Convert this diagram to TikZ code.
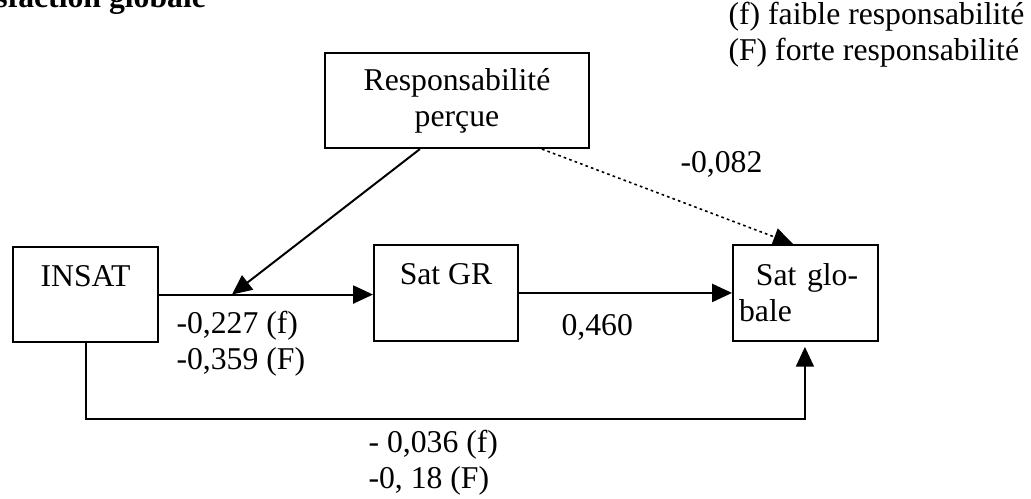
\documentclass[tikz,border=0pt,12pt]{standalone}
\usepackage{fontspec}
\setmainfont{Liberation Serif}
\usepackage{tikz}
\usetikzlibrary{arrows.meta}

\begin{document}
\begin{tikzpicture}[
  x=0.3785pt, y=-0.3785pt,
  font=\fontsize{12}{13.5}\selectfont,
  >={Triangle[length=7.5pt, width=6.8pt]},
  box/.style={draw, line width=0.75pt, anchor=north west, inner sep=0pt, align=center},
  onebox/.style={box, minimum width=54.9pt, text height=15.1pt, text depth=20.9pt},
  arr/.style={->, line width=0.75pt},
  dotarr/.style={->, line width=0.6pt, dash pattern=on 1pt off 1.2pt},
  coef/.style={inner sep=0pt, align=left}
]
\useasboundingbox (0,0) rectangle (1031,499);

% --- Titre (coupe en haut de la page) ---
\node[anchor=base east, font=\bfseries\fontsize{12}{13.5}\selectfont] (titre) at (217,8) {Satisfaction globale};

% --- Legende ---
\node[coef, anchor=north west] (legende) at (728,2) {(f) faible responsabilité\\(F) forte responsabilité};

% --- Variables ---
\node[box, minimum width=99.9pt, minimum height=36pt] (resp) at (324,52) {Responsabilité\\perçue};
\node[onebox] (insat) at (12,246) {INSAT};
\node[onebox, minimum width=54.5pt, text depth=21.2pt] (satgr) at (373,244) {Sat GR};
\node[box, align=left, inner xsep=2.3pt, text width=50.3pt, minimum height=36.3pt] (satglob) at (732,244) {\hspace*{6.4pt}Sat glo-\\bale};

% --- Points d'arrivee ---
\coordinate (modpt) at ([xshift=27.6pt]insat.east);
\coordinate (satglobhaut) at ([xshift=23.1pt]satglob.north west);
\coordinate (satglobbas) at ([xshift=27.6pt]satglob.south west);

% --- Effets directs ---
\draw[arr] (insat.east) -- (insat.east -| satgr.west);
\draw[arr] (satgr.east) -- (satgr.east -| satglob.west);
\draw[arr, shorten >=1.9pt] (insat.south) -- ++(0,76) -| (satglobbas);

% --- Effet moderateur de la responsabilite ---
\draw[arr] ([xshift=36.3pt]resp.south west) -- (modpt);
\draw[dotarr] ([xshift=82.5pt]resp.south west) -- (satglobhaut);

% --- Coefficients ---
\node[coef, anchor=north west] (c227) at (176,311) {-0,227 (f)\\-0,359 (F)};
\node[coef, anchor=base west] (c460) at (561,336) {0,460};
\node[coef, anchor=base west] (c082) at (680,173) {-0,082};
\node[coef, anchor=north west] (c036) at (368,430) {- 0,036 (f)\\-0, 18 (F)};

\end{tikzpicture}
\end{document}
